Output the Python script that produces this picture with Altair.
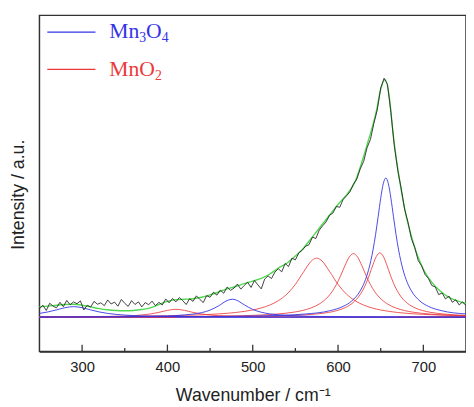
import altair as alt
import pandas as pd

# ---------------- data ----------------
# measured Raman spectrum (black, noisy), sampled every 4 cm-1 from 250 to 750
SPEC_X = list(range(250, 751, 4))
SPEC_Y = [3.5, 5.0, 2.8, 5.8, 4.6, 3.9, 6.2, 4.4, 7.0, 5.2,
          6.4, 5.6, 6.8, 3.0, 5.0, 4.2, 6.6, 5.4, 6.0, 4.8,
          7.2, 5.5, 6.3, 4.6, 7.4, 5.8, 4.5, 6.9, 5.3, 6.4,
          4.3, 6.1, 5.2, 6.7, 4.8, 6.2, 5.1, 7.6, 6.0, 7.8,
          6.4, 8.2, 6.9, 5.3, 7.7, 6.6, 8.9, 7.4, 6.1, 9.0,
          8.3, 10.4, 9.2, 11.3, 10.0, 12.6, 11.2, 12.1, 13.8, 11.7,
          13.2, 14.6, 12.4, 15.3, 13.5, 11.8, 15.9, 17.2, 16.1, 18.8,
          20.2, 18.9, 22.4, 21.1, 24.6, 23.9, 26.8, 27.9, 29.6, 30.2,
          33.4, 32.8, 36.3, 38.1, 39.7, 42.5, 43.4, 46.2, 45.8, 49.1,
          50.6, 52.3, 55.4, 57.6, 61.8, 64.9, 70.6, 74.1, 80.8, 86.4,
          95.5, 99.6, 97.0, 85.2, 71.4, 61.2, 53.8, 45.1, 39.6, 32.8,
          28.9, 23.6, 21.4, 17.8, 16.1, 13.2, 12.6, 9.4, 10.1, 7.6,
          8.8, 6.2, 7.3, 5.1, 6.4, 4.8]

# cumulative fit (green)
FIT_X = [250, 260, 270, 280, 290, 300, 310, 320, 330, 340, 350, 360, 370, 380, 390,
         400, 410, 420, 430, 440, 450, 460, 470, 480, 490, 500, 510, 520, 530, 540,
         550, 560, 570, 580, 590, 600, 610, 620, 630, 635, 640, 645, 650, 655, 660,
         665, 670, 675, 680, 685, 690, 695, 700, 710, 720, 730, 740, 750]
FIT_Y = [4.4, 4.6, 5.0, 5.3, 5.4, 5.0, 4.3, 3.6, 3.1, 2.8, 2.7, 2.8, 3.2, 3.9, 5.3,
         6.6, 7.3, 7.5, 7.7, 8.3, 9.3, 10.5, 11.8, 12.8, 14.0, 15.0, 16.2, 18.0, 20.5, 22.5,
         25.5, 29.0, 33.5, 38.0, 42.5, 47.0, 51.0, 56.5, 67.0, 73.0, 79.0, 86.0, 95.0, 99.0, 92.0,
         75.0, 62.0, 51.0, 42.0, 35.0, 29.0, 24.0, 20.0, 14.5, 10.8, 8.3, 6.8, 5.7]

# Mn3O4 components (blue)
B1_X = [250, 260, 270, 280, 290, 300, 310, 320, 330, 340, 350, 360, 370, 380, 390, 400,
        420, 450, 500, 550, 600, 650, 700, 750]
B1_Y = [1.58, 2.2, 3.05, 3.96, 4.4, 3.96, 3.05, 2.2, 1.58, 1.16, 0.88, 0.68, 0.54, 0.44, 0.36, 0.30,
        0.22, 0.15, 0.09, 0.06, 0.04, 0.03, 0.025, 0.02]
B2_X = [250, 300, 350, 380, 400, 420, 430, 440, 450, 460, 470, 476, 480, 490, 500, 510,
        520, 530, 550, 580, 620, 680, 750]
B2_Y = [0.064, 0.105, 0.2, 0.34, 0.53, 0.92, 1.29, 1.90, 2.96, 4.74, 6.93, 7.5, 7.24, 5.19, 3.25, 2.07,
        1.39, 0.99, 0.56, 0.29, 0.16, 0.079, 0.044]
B3_X = [250, 350, 450, 512, 562, 591, 606, 616, 626, 631, 636, 641, 644, 647, 650, 653, 656,
        659, 662, 665, 668, 671, 676, 681, 686, 696, 706, 721, 750]
B3_Y = [0.074, 0.13, 0.29, 0.58, 1.35, 2.75, 4.50, 6.74, 10.98, 14.60, 19.99, 28.02, 34.42, 41.88,
        49.53, 55.62, 58.0, 55.62, 49.53, 41.88, 34.42, 28.02, 19.99, 14.60, 10.98, 6.74, 4.50, 2.75, 1.35]

# MnO2 components (red)
R1_X = [250, 300, 330, 350, 370, 380, 390, 400, 410, 420, 430, 440, 450, 470, 490, 520, 560, 650, 750]
R1_Y = [0.08, 0.16, 0.29, 0.43, 0.93, 1.35, 2.01, 2.84, 3.3, 2.84, 2.01, 1.35, 0.93, 0.43, 0.29, 0.16,
        0.09, 0.035, 0.02]
R2_X = [250, 300, 350, 400, 430, 450, 470, 490, 500, 510, 520, 530, 540, 550, 560, 570, 575,
        580, 590, 600, 610, 620, 630, 640, 650, 660, 680, 700, 720, 750]
R2_Y = [0.18, 0.25, 0.375, 0.61, 0.88, 1.18, 1.63, 2.41, 3.01, 3.85, 5.06, 6.87, 9.60, 13.69, 19.11,
        23.84, 24.6, 23.84, 19.11, 13.69, 9.60, 6.87, 5.06, 3.85, 3.01, 2.41, 1.63, 1.18, 0.88, 0.61]
R3_X = [250, 318, 388, 448, 488, 518, 538, 548, 558, 568, 578, 583, 588, 593, 598, 603, 608, 613,
        618, 623, 628, 633, 638, 643, 648, 653, 658, 668, 678, 688, 698, 718, 750]
R3_Y = [0.082, 0.12, 0.21, 0.38, 0.64, 1.07, 1.63, 2.09, 2.77, 3.81, 5.51, 6.77, 8.43, 10.66, 13.58,
        17.26, 21.41, 25.01, 26.5, 25.01, 21.41, 17.26, 13.58, 10.66, 8.43, 6.77, 5.51, 3.81, 2.77,
        2.09, 1.63, 1.07, 0.62]
R4_X = [250, 349, 449, 499, 548, 574, 589, 599, 609, 619, 624, 629, 633, 637, 641, 645, 649,
        653, 657, 661, 665, 669, 674, 679, 689, 699, 709, 724, 750]
R4_Y = [0.049, 0.086, 0.19, 0.34, 0.74, 1.31, 1.99, 2.78, 4.10, 6.51, 8.47, 11.24, 14.21, 17.89,
        21.95, 25.40, 26.8, 25.40, 21.95, 17.89, 14.21, 11.24, 8.47, 6.51, 4.10, 2.78, 1.99, 1.31, 0.74]

# zero lines of the components
BASE_BLUE_X = [250]
BASE_BLUE_X2 = [750]
BASE_RED_X = [250, 670]
BASE_RED_X2 = [410, 750]

MAJOR_TICKS = [300, 400, 500, 600, 700]
MINOR_TICKS = [350, 450, 550, 650]

# legend labels split into normal text and subscript digits
LEG_BLUE_PARTS = ["Mn", "3", "O", "4"]
LEG_RED_PARTS = ["Mn", "O", "2"]

# ---------------- styling ----------------
BLUE = "#3434e6"
RED = "#ec3a3a"
GREEN = "#4fd84f"
BLACK = "#2a2a2a"
AXIS = "#333333"
W, H = 434, 342

xs = alt.Scale(domain=[250, 750], nice=False, zero=False)
ys = alt.Scale(domain=[-14.3, 125.8], nice=False, zero=False)

X_AXIS = alt.Axis(title="Wavenumber / cm⁻¹", values=MAJOR_TICKS, ticks=False, grid=False,
                  domain=True, domainColor=AXIS, domainWidth=1.5,
                  labelFont="Liberation Sans", labelFontSize=15, labelColor="#222",
                  labelPadding=8, titleFont="Liberation Sans", titleFontSize=18,
                  titleFontWeight="normal", titleColor="#222", titlePadding=13)
Y_AXIS = alt.Axis(title="Intensity / a.u.", labels=False, ticks=False, grid=False, domain=False,
                  titleFont="Liberation Sans", titleFontSize=18, titleFontWeight="normal",
                  titleColor="#222", titlePadding=12, titleY=182)

X_ENC = alt.X("x:Q", scale=xs, axis=X_AXIS)
Y_ENC = alt.Y("y:Q", scale=ys, axis=Y_AXIS)


def comp_df(curves):
    rows = []
    for name, xv, yv in curves:
        for a, b in zip(xv, yv):
            rows.append({"curve": name, "x": a, "y": b})
    return pd.DataFrame(rows)


blue_df = comp_df([("B1", B1_X, B1_Y), ("B2", B2_X, B2_Y), ("B3", B3_X, B3_Y)])
red_df = comp_df([("R1", R1_X, R1_Y), ("R2", R2_X, R2_Y), ("R3", R3_X, R3_Y), ("R4", R4_X, R4_Y)])
spec_df = pd.DataFrame({"x": SPEC_X, "y": SPEC_Y})
fit_df = pd.DataFrame({"x": FIT_X, "y": FIT_Y})
base_blue_df = pd.DataFrame({"x": BASE_BLUE_X, "x2": BASE_BLUE_X2, "y": [0] * len(BASE_BLUE_X)})
base_red_df = pd.DataFrame({"x": BASE_RED_X, "x2": BASE_RED_X2, "y": [0] * len(BASE_RED_X)})
major_df = pd.DataFrame({"x": MAJOR_TICKS})
minor_df = pd.DataFrame({"x": MINOR_TICKS})
one = pd.DataFrame({"k": [0]})

base_blue = alt.Chart(base_blue_df).mark_rule(color=BLUE, strokeWidth=1.2).encode(
    x=X_ENC, x2="x2:Q", y=Y_ENC)
base_red = alt.Chart(base_red_df).mark_rule(color=RED, strokeWidth=1.2).encode(
    x=X_ENC, x2="x2:Q", y=Y_ENC)

red_lines = alt.Chart(red_df).mark_line(color=RED, strokeWidth=1, interpolate="monotone", opacity=0.85).encode(
    x=X_ENC, y=Y_ENC, detail="curve:N")
blue_lines = alt.Chart(blue_df).mark_line(color=BLUE, strokeWidth=1, interpolate="monotone", opacity=0.9).encode(
    x=X_ENC, y=Y_ENC, detail="curve:N")

fit_line = alt.Chart(fit_df).mark_line(color=GREEN, strokeWidth=1.4, interpolate="monotone").encode(
    x=X_ENC, y=Y_ENC)

spec_line = alt.Chart(spec_df).mark_line(color=BLACK, strokeWidth=0.9).encode(x=X_ENC, y=Y_ENC)

major = alt.Chart(major_df).mark_rule(color=AXIS, strokeWidth=1.3).encode(
    x=X_ENC, y=alt.value(H), y2=alt.value(H - 7))
minor = alt.Chart(minor_df).mark_rule(color=AXIS, strokeWidth=1.3).encode(
    x=X_ENC, y=alt.value(H), y2=alt.value(H - 3.5))

leg_blue_line = alt.Chart(one).mark_rule(color=BLUE, strokeWidth=1.3).encode(
    x=alt.value(8), x2=alt.value(57), y=alt.value(17))
leg_red_line = alt.Chart(one).mark_rule(color=RED, strokeWidth=1.3).encode(
    x=alt.value(8), x2=alt.value(57), y=alt.value(55))


def leg_text(txt, color, x, y, size):
    return alt.Chart(one).mark_text(color=color, font="Liberation Serif", fontSize=size,
                                    align="left", baseline="alphabetic").encode(
        x=alt.value(x), y=alt.value(y), text=alt.value(txt))


legend_layers = [
    leg_text(LEG_BLUE_PARTS[0], BLUE, 71, 23, 22),
    leg_text(LEG_BLUE_PARTS[1], BLUE, 101.5, 27, 14),
    leg_text(LEG_BLUE_PARTS[2], BLUE, 108.5, 23, 22),
    leg_text(LEG_BLUE_PARTS[3], BLUE, 124.5, 27, 14),
    leg_text(LEG_RED_PARTS[0], RED, 71, 62, 22),
    leg_text(LEG_RED_PARTS[1], RED, 101.5, 62, 22),
    leg_text(LEG_RED_PARTS[2], RED, 117.5, 66, 14),
]

chart = alt.layer(
    base_blue, base_red, red_lines, blue_lines, fit_line, spec_line,
    major, minor, leg_blue_line, leg_red_line, *legend_layers
).properties(
    width=W, height=H,
    autosize=alt.AutoSizeParams(type="none"),
    padding={"left": 32, "top": 4, "right": 0, "bottom": 56},
    background="white",
).configure_view(stroke=AXIS, strokeWidth=1.5)

chart.save("out.html", embed_options={"renderer": "svg", "actions": False})
